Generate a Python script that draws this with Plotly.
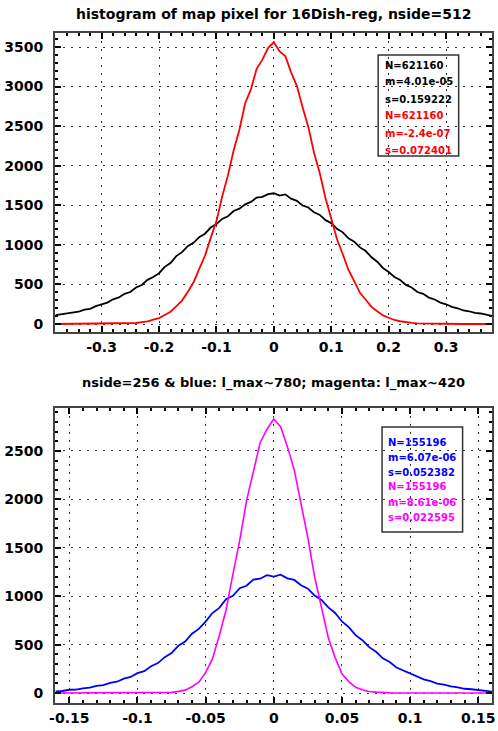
import plotly.graph_objects as go

W, H = 498, 731

# ---------------- data ----------------
top_title = "histogram of map pixel for 16Dish-reg, nside=512"
bot_title = "nside=256 & blue: l_max~780; magenta: l_max~420"

top_x0, top_step, top_n = -0.38, 0.01, 77
top_x = [round(top_x0 + i * top_step, 4) for i in range(top_n)]

black_counts = [
    112, 124, 128, 149, 155, 181, 192, 226, 248, 270,
    312, 336, 381, 404, 462, 493, 558, 594, 642, 722,
    771, 858, 908, 984, 1026, 1098, 1141, 1219, 1262, 1328,
    1362, 1428, 1458, 1512, 1543, 1597, 1606, 1641,
    1652,
    1622, 1638, 1584, 1556, 1497, 1472, 1411, 1378, 1312, 1275,
    1203, 1158, 1082, 1041, 968, 922, 843, 787, 708, 657,
    594, 556, 494, 461, 404, 381, 334, 310, 270, 249,
    216, 199, 171, 161, 140, 133, 115, 102,
]
red_counts = [
    0, 1, 0, 1, 0, 1, 1, 0, 1, 2,
    2, 4, 5, 10, 13, 23, 33, 54, 75, 114,
    155, 224, 296, 405, 524, 697, 862, 1088, 1300, 1612,
    1878, 2196, 2455, 2790, 2965, 3225, 3340, 3490,
    3560,
    3445, 3385, 3180, 3010, 2740, 2490, 2165, 1905, 1588, 1322,
    1071, 882, 683, 541, 394, 306, 216, 161, 108, 79,
    51, 35, 21, 15, 8, 6, 3, 2, 1, 1,
    0, 1, 0, 0, 1, 0, 0, 0,
]

bot_x0, bot_step, bot_n = -0.16, 0.005, 65
bot_x = [round(bot_x0 + i * bot_step, 4) for i in range(bot_n)]

blue_counts = [
    17, 21, 34, 36, 47, 56, 73, 81, 104, 117,
    149, 166, 205, 226, 276, 309, 371, 412, 488, 531,
    612, 662, 738, 826, 879, 968, 1004, 1082, 1108, 1172,
    1181, 1218,
    1203,
    1222, 1184, 1168, 1113, 1078, 1007, 962, 884, 827, 739,
    681, 598, 546, 474, 426, 358, 321, 264, 234, 196,
    173, 141, 123, 97, 86, 68, 59, 44, 39, 31,
    23, 14,
]
magenta_counts = [
    0, 0, 0, 0, 0, 0, 0, 0, 0, 0, 0, 1, 0, 1,
    1, 2, 5, 7, 17, 30, 65, 112, 210, 352,
    592, 858, 1225, 1575, 1985, 2270, 2585, 2725,
    2830,
    2750, 2545, 2305, 1940, 1602, 1196, 878, 571, 366, 199,
    118, 59, 33, 15, 9, 3, 2, 1,
    0, 0, 0, 0, 0, 0, 0, 0, 0, 0, 0, 0, 0, 0,
]

top_xtick_vals = [-0.3, -0.2, -0.1, 0, 0.1, 0.2, 0.3]
top_xtick_text = ["-0.3", "-0.2", "-0.1", "0", "0.1", "0.2", "0.3"]
top_ytick_vals = [0, 500, 1000, 1500, 2000, 2500, 3000, 3500]
bot_xtick_vals = [-0.15, -0.1, -0.05, 0, 0.05, 0.1, 0.15]
bot_xtick_text = ["-0.15", "-0.1", "-0.05", "0", "0.05", "0.1", "0.15"]
bot_ytick_vals = [0, 500, 1000, 1500, 2000, 2500]

top_stats = [("N=621160", "black"), ("m=4.01e-05", "black"), ("s=0.159222", "black"),
             ("N=621160", "red"), ("m=-2.4e-07", "red"), ("s=0.072401", "red")]
bot_stats = [("N=155196", "blue"), ("m=6.07e-06", "blue"), ("s=0.052382", "blue"),
             ("N=155196", "magenta"), ("m=8.61e-06", "magenta"), ("s=0.022595", "magenta")]

# ---------------- figure ----------------
def px_x(p):
    return p / W

def px_y(p):
    return 1 - p / H

FONT = "DejaVu Sans"

fig = go.Figure()
fig.add_trace(go.Scatter(x=top_x, y=black_counts, mode="lines",
                         line=dict(color="black", width=1.8), xaxis="x", yaxis="y"))
fig.add_trace(go.Scatter(x=top_x, y=red_counts, mode="lines",
                         line=dict(color="#ff0000", width=1.8), xaxis="x", yaxis="y"))
fig.add_trace(go.Scatter(x=bot_x, y=blue_counts, mode="lines",
                         line=dict(color="#0000ff", width=1.8), xaxis="x2", yaxis="y2"))
fig.add_trace(go.Scatter(x=bot_x, y=magenta_counts, mode="lines",
                         line=dict(color="#ff00ff", width=1.6), xaxis="x2", yaxis="y2"))

tickfont = dict(family=FONT, size=14, color="black", weight="bold")
common = dict(showline=True, linecolor="#444", linewidth=2, mirror="allticks",
              ticks="inside", ticklen=6, tickwidth=1.5, tickcolor="black",
              showgrid=True, gridcolor="#333", gridwidth=1.2, griddash="2px,6px",
              zeroline=False, tickfont=tickfont, ticklabeloverflow="allow")

fig.update_layout(
    width=W, height=H, margin=dict(l=0, r=0, t=0, b=0),
    paper_bgcolor="white", plot_bgcolor="white", showlegend=False,
    xaxis=dict(domain=[px_x(50), px_x(495)], range=[-0.381, 0.380], anchor="y",
               tickvals=top_xtick_vals, ticktext=top_xtick_text,
               minor=dict(ticks="inside", ticklen=3, tickcolor="black", tick0=0, dtick=0.02, showgrid=False),
               ticklabelstandoff=1, **common),
    yaxis=dict(domain=[px_y(332), px_y(33)], range=[-101, 3677], anchor="x",
               tickvals=top_ytick_vals,
               minor=dict(ticks="inside", ticklen=3, tickcolor="black", tick0=0, dtick=100, showgrid=False),
               ticklabelstandoff=7, **common),
    xaxis2=dict(domain=[px_x(50), px_x(495)], range=[-0.1604, 0.1601], anchor="y2",
                tickvals=bot_xtick_vals, ticktext=bot_xtick_text,
                minor=dict(ticks="inside", ticklen=3, tickcolor="black", tick0=0, dtick=0.01, showgrid=False),
                ticklabelstandoff=1, **common),
    yaxis2=dict(domain=[px_y(703), px_y(408)], range=[-103, 2944], anchor="x2",
                tickvals=bot_ytick_vals,
                minor=dict(ticks="inside", ticklen=3, tickcolor="black", tick0=0, dtick=100, showgrid=False),
                ticklabelstandoff=7, **common),
)

ann = []
ann.append(dict(text=top_title, x=px_x(272), y=px_y(14), xref="paper", yref="paper",
                showarrow=False, xanchor="center", yanchor="middle",
                font=dict(family=FONT, size=14, color="black", weight="bold")))
ann.append(dict(text=bot_title, x=px_x(272), y=px_y(383), xref="paper", yref="paper",
                showarrow=False, xanchor="center", yanchor="middle",
                font=dict(family=FONT, size=13, color="black", weight="bold")))

top_lines_y = [65, 82, 99, 116, 133, 150]
for (t, c), yy in zip(top_stats, top_lines_y):
    ann.append(dict(text=t, x=px_x(384), y=px_y(yy), xref="paper", yref="paper",
                    showarrow=False, xanchor="left", yanchor="middle",
                    font=dict(family=FONT, size=10, color=c, weight="bold")))
bot_lines_y = [442, 457, 472, 487, 502, 517]
for (t, c), yy in zip(bot_stats, bot_lines_y):
    ann.append(dict(text=t, x=px_x(387), y=px_y(yy), xref="paper", yref="paper",
                    showarrow=False, xanchor="left", yanchor="middle",
                    font=dict(family=FONT, size=10, color=c, weight="bold")))
fig.update_layout(annotations=ann)

fig.update_layout(shapes=[
    dict(type="rect", xref="paper", yref="paper", x0=px_x(379), x1=px_x(461),
         y0=px_y(156), y1=px_y(55), line=dict(color="#333", width=1.5), fillcolor="rgba(0,0,0,0)"),
    dict(type="rect", xref="paper", yref="paper", x0=px_x(383), x1=px_x(465),
         y0=px_y(532), y1=px_y(427), line=dict(color="#333", width=1.5), fillcolor="rgba(0,0,0,0)"),
])

fig.write_html("out.html")
